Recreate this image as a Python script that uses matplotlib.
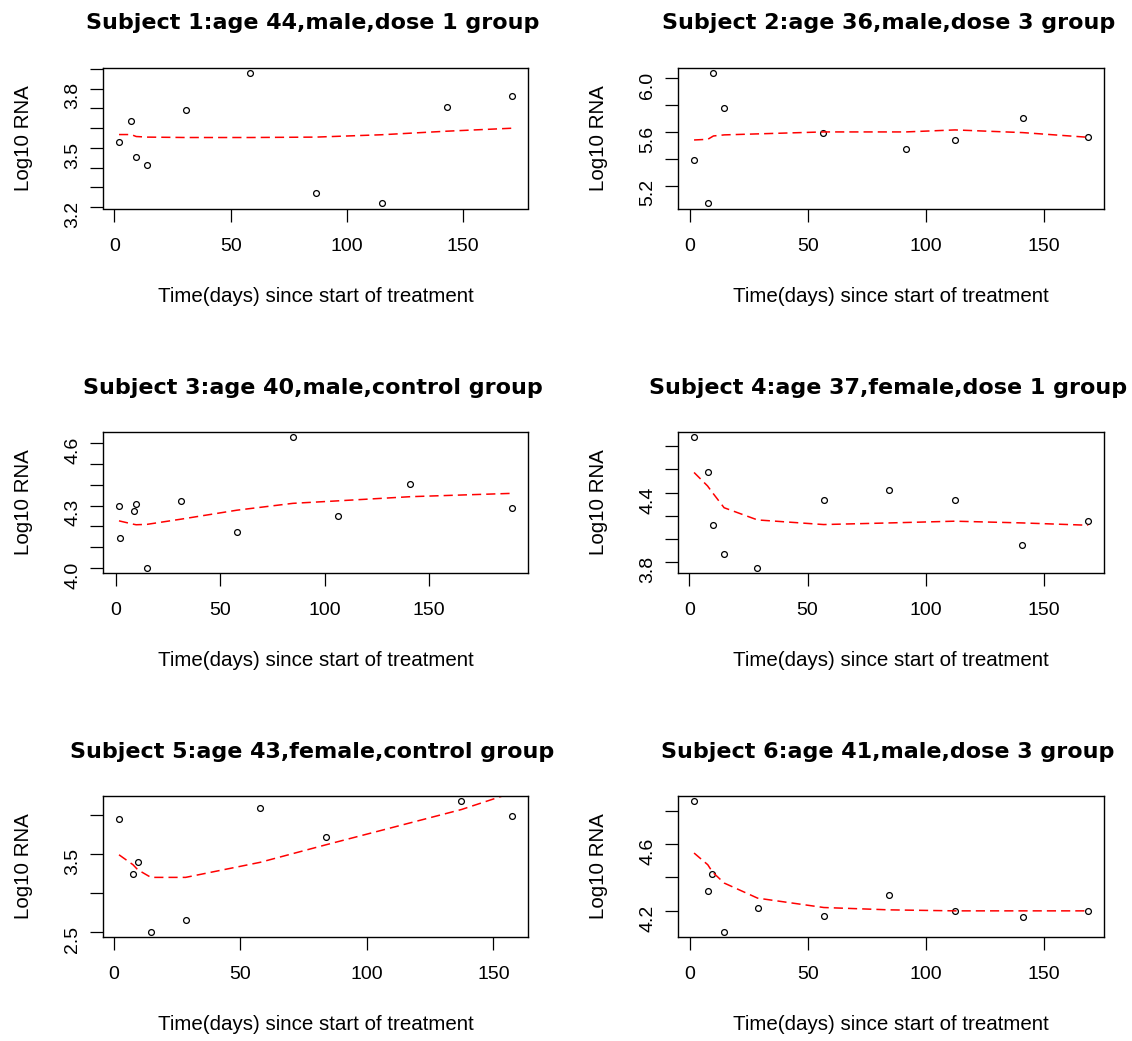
import matplotlib.pyplot as plt
import numpy as np

plt.rcParams['font.family'] = ['Liberation Sans', 'DejaVu Sans']

# subject titles
titles = [
    'Subject 1:age 44,male,dose 1 group',
    'Subject 2:age 36,male,dose 3 group',
    'Subject 3:age 40,male,control group',
    'Subject 4:age 37,female,dose 1 group',
    'Subject 5:age 43,female,control group',
    'Subject 6:age 41,male,dose 3 group',
]

# observed log10 RNA per subject (days, value) and smoothed fit at those days
days_1 = [2.0, 7.2, 9.4, 14.2, 30.8, 58.5, 86.6, 115.0, 143.0, 171.0]
rna_1 = [3.529, 3.636, 3.456, 3.415, 3.692, 3.880, 3.270, 3.220, 3.708, 3.764]
fit_1 = [3.568, 3.568, 3.558, 3.555, 3.553, 3.553, 3.555, 3.567, 3.585, 3.600]

days_2 = [1.9, 7.7, 10.1, 14.7, 56.4, 91.4, 112.3, 140.9, 168.6]
rna_2 = [5.393, 5.068, 6.040, 5.775, 5.593, 5.475, 5.538, 5.705, 5.560]
fit_2 = [5.540, 5.545, 5.570, 5.578, 5.600, 5.600, 5.615, 5.595, 5.560]

days_3 = [1.4, 2.1, 8.6, 9.6, 14.9, 31.2, 57.9, 84.8, 106.4, 141.1, 189.8]
rna_3 = [4.298, 4.143, 4.275, 4.307, 4.002, 4.320, 4.174, 4.629, 4.251, 4.405, 4.288]
fit_3 = [4.227, 4.225, 4.210, 4.208, 4.210, 4.235, 4.278, 4.311, 4.323, 4.343, 4.359]

days_4 = [2.0, 7.7, 9.8, 14.7, 28.8, 56.8, 84.6, 112.3, 140.9, 168.7]
rna_4 = [4.878, 4.574, 4.125, 3.875, 3.754, 4.333, 4.420, 4.333, 3.945, 4.154]
fit_4 = [4.574, 4.458, 4.400, 4.270, 4.165, 4.125, 4.139, 4.154, 4.139, 4.119]

days_5 = [2.1, 7.6, 9.5, 14.7, 28.4, 57.8, 84.0, 137.3, 157.3]
rna_5 = [3.946, 3.247, 3.393, 2.504, 2.655, 4.097, 3.723, 4.178, 3.989]
fit_5 = [3.490, 3.363, 3.298, 3.200, 3.200, 3.393, 3.620, 4.071, 4.285]

days_6 = [1.9, 7.7, 9.7, 14.7, 28.8, 56.8, 84.6, 112.3, 140.9, 168.7]
rna_6 = [4.856, 4.316, 4.422, 4.076, 4.220, 4.172, 4.296, 4.202, 4.164, 4.202]
fit_6 = [4.546, 4.476, 4.432, 4.366, 4.276, 4.220, 4.206, 4.200, 4.200, 4.200]

# axis ticks and the labels R kept
x_ticks = [0, 50, 100, 150]
y_ticks = [
    [3.2, 3.3, 3.4, 3.5, 3.6, 3.7, 3.8, 3.9],
    [5.2, 5.4, 5.6, 5.8, 6.0],
    [4.0, 4.1, 4.2, 4.3, 4.4, 4.5, 4.6],
    [3.8, 4.0, 4.2, 4.4, 4.6, 4.8],
    [2.5, 3.0, 3.5, 4.0],
    [4.2, 4.4, 4.6, 4.8],
]
y_labels = [
    ['3.2', '', '', '3.5', '', '', '3.8', ''],
    ['5.2', '', '5.6', '', '6.0'],
    ['4.0', '', '', '4.3', '', '', '4.6'],
    ['3.8', '', '', '4.4', '', ''],
    ['2.5', '', '3.5', ''],
    ['4.2', '', '4.6', ''],
]

days = [days_1, days_2, days_3, days_4, days_5, days_6]
rna = [rna_1, rna_2, rna_3, rna_4, rna_5, rna_6]
fits = [fit_1, fit_2, fit_3, fit_4, fit_5, fit_6]

W, H = 1132, 1041
fig = plt.figure(figsize=(W / 100, H / 100), dpi=100)

col_left = [103.3, 678.3]
col_right = [527.7, 1104]
row_top = [67.7, 432, 796]
box_h = 140.8

for i in range(6):
    r, c = divmod(i, 2)
    left = col_left[c]
    w = col_right[c] - left
    top = row_top[r]
    ax = fig.add_axes([left / W, 1 - (top + box_h) / H, w / W, box_h / H])

    x = np.array(days[i])
    y = np.array(rna[i])
    ax.plot(x, y, 'o', mfc='none', mec='black', ms=4.2, mew=0.9, clip_on=False)
    line, = ax.plot(x, fits[i], color='red', lw=1.1, ls='--')
    line.set_dashes((6, 3.3))

    # R style 4% range extension
    dx = (x.max() - x.min()) * 0.04
    dy = (y.max() - y.min()) * 0.04
    ax.set_xlim(x.min() - dx, x.max() + dx)
    ax.set_ylim(y.min() - dy, y.max() + dy)

    ax.set_xticks(x_ticks)
    ax.set_yticks(y_ticks[i])
    ax.set_yticklabels(y_labels[i])
    ax.tick_params(axis='both', direction='out', length=9.6, width=0.9,
                   labelsize=14)
    ax.tick_params(axis='x', pad=11.5)
    ax.tick_params(axis='y', pad=6.2, labelrotation=90)
    for s in ax.spines.values():
        s.set_linewidth(1.0)

    # axis labels placed by baseline like R's mtext
    ax.text(-74.6 / w, 0.5, 'Log10 RNA', transform=ax.transAxes,
            rotation=90, rotation_mode='anchor', ha='center', va='baseline',
            fontsize=14.8)
    ax.text(0.5, -93.4 / box_h, 'Time(days) since start of treatment',
            transform=ax.transAxes, ha='center', va='baseline', fontsize=14.8)

    fig.text((left + w / 2 - 3) / W, 1 - (top - 38.4) / H, titles[i],
             ha='center', va='baseline', fontsize=16, fontweight='bold',
             family='DejaVu Sans')

fig.savefig('out.png', dpi=100)
